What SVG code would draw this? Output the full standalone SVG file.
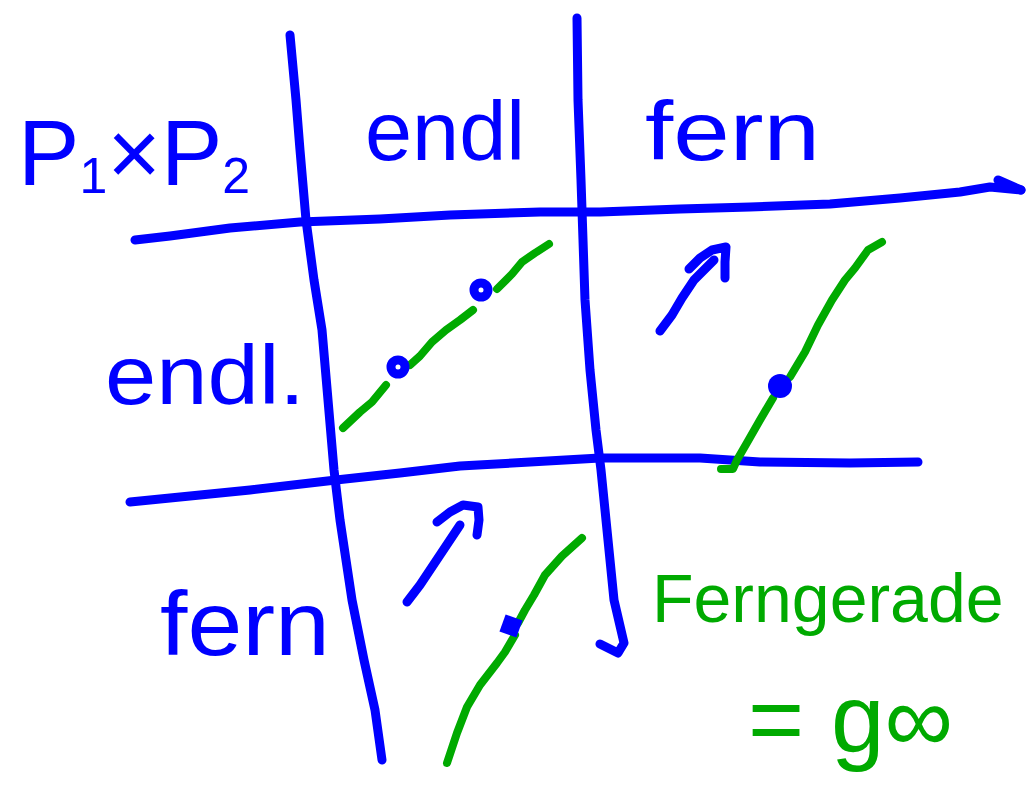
<svg xmlns="http://www.w3.org/2000/svg" width="1026" height="811" viewBox="0 0 1026 811">
<style>
.b{fill:none;stroke:#0000ff;stroke-width:9;stroke-linecap:round;stroke-linejoin:round}
.g{fill:none;stroke:#00aa00;stroke-width:8;stroke-linecap:round;stroke-linejoin:round}
.dot{fill:none;stroke:#0000ff;stroke-width:9}
.tb{fill:#0000ff;font-family:"Liberation Sans",Arial,sans-serif}
.tg{fill:#00aa00;font-family:"Liberation Sans",Arial,sans-serif}
</style>
<rect width="1026" height="811" fill="#ffffff"/>
<g id="grid">
<path class="b" d="M290,35 L296,100 L300,150 L306,220 L314,280 L322,330 L328,400 L334,470 L340,520 L352,600 L364,660 L375,710 L382,760"/>
<path class="b" d="M577,18 L578,100 L581,180 L583,240 L585,300 L590,370 L596,430 L601,470 L608,540 L614,600 L624,643 L618,653 L600,644"/>
<path class="b" d="M135,240 L170,236 L230,228 L300,222 L380,219 L450,215 L540,212 L600,212 L680,209 L750,207 L830,204 L900,198 L960,192 L990,187 L1021,190"/>
<path class="b" d="M998,180 L1021,190"/>
<path class="b" d="M130,502 L170,498 L250,490 L336,480 L400,473 L460,466 L530,462 L600,458 L700,458 L760,462 L850,463 L918,462"/>
</g>
<g id="cell-endl-endl">
<path class="g" d="M343,428 L360,412 L372,402 L386,385"/>
<path class="g" d="M410,365 L420,356 L432,342 L446,330 L460,320 L473,310"/>
<path class="g" d="M497,289 L512,274 L522,262 L535,253 L549,244"/>
<circle class="dot" cx="398" cy="367" r="7"/>
<circle class="dot" cx="481" cy="290" r="7"/>
</g>
<g id="cell-fern-endl">
<path class="b" d="M660,331 L672,315 L682,298 L694,280 L714,260"/>
<path class="b" d="M689,269 L700,258 L712,250 L726,247 L725,262 L725,278"/>
<path class="g" d="M721,469 L733,469 L737,460 L748,441 L760,420 L773,398"/>
<path class="g" d="M790,377 L805,352 L818,325 L832,300 L845,280 L855,268 L868,250 L882,242"/>
<circle cx="780" cy="386" r="12" fill="#0000ff"/>
</g>
<g id="cell-endl-fern">
<path class="b" d="M407,602 L420,585 L440,555 L460,525"/>
<path class="b" d="M437,522 L450,512 L463,505 L478,507 L479,520 L477,535"/>
<path class="g" d="M582,538 L562,556 L545,575 L534,595 L525,610 L518,623"/>
<path class="g" d="M515,635 L505,652 L497,663 L480,685 L467,707 L457,733 L447,763"/>
<rect x="502" y="617" width="18" height="18" fill="#0000ff" transform="rotate(20 511 626)"/>
</g>
<g id="labels">
<text class="tb" x="18" y="185" font-size="92"><tspan>P</tspan><tspan font-size="50" dy="8">1</tspan><tspan dy="-8">×</tspan><tspan>P</tspan><tspan font-size="50" dy="8">2</tspan></text>
<text class="tb" x="365" y="160" font-size="84" textLength="160" lengthAdjust="spacingAndGlyphs">endl</text>
<text class="tb" x="645" y="160" font-size="84" textLength="175" lengthAdjust="spacingAndGlyphs">fern</text>
<text class="tb" x="105" y="404" font-size="84" textLength="200" lengthAdjust="spacingAndGlyphs">endl.</text>
<text class="tb" x="160" y="655" font-size="90" textLength="170" lengthAdjust="spacingAndGlyphs">fern</text>
<text class="tg" x="652" y="622" font-size="68">Ferngerade</text>
<text class="tg" x="748" y="752" font-size="96" textLength="205" lengthAdjust="spacingAndGlyphs">= g∞</text>
</g>
</svg>
